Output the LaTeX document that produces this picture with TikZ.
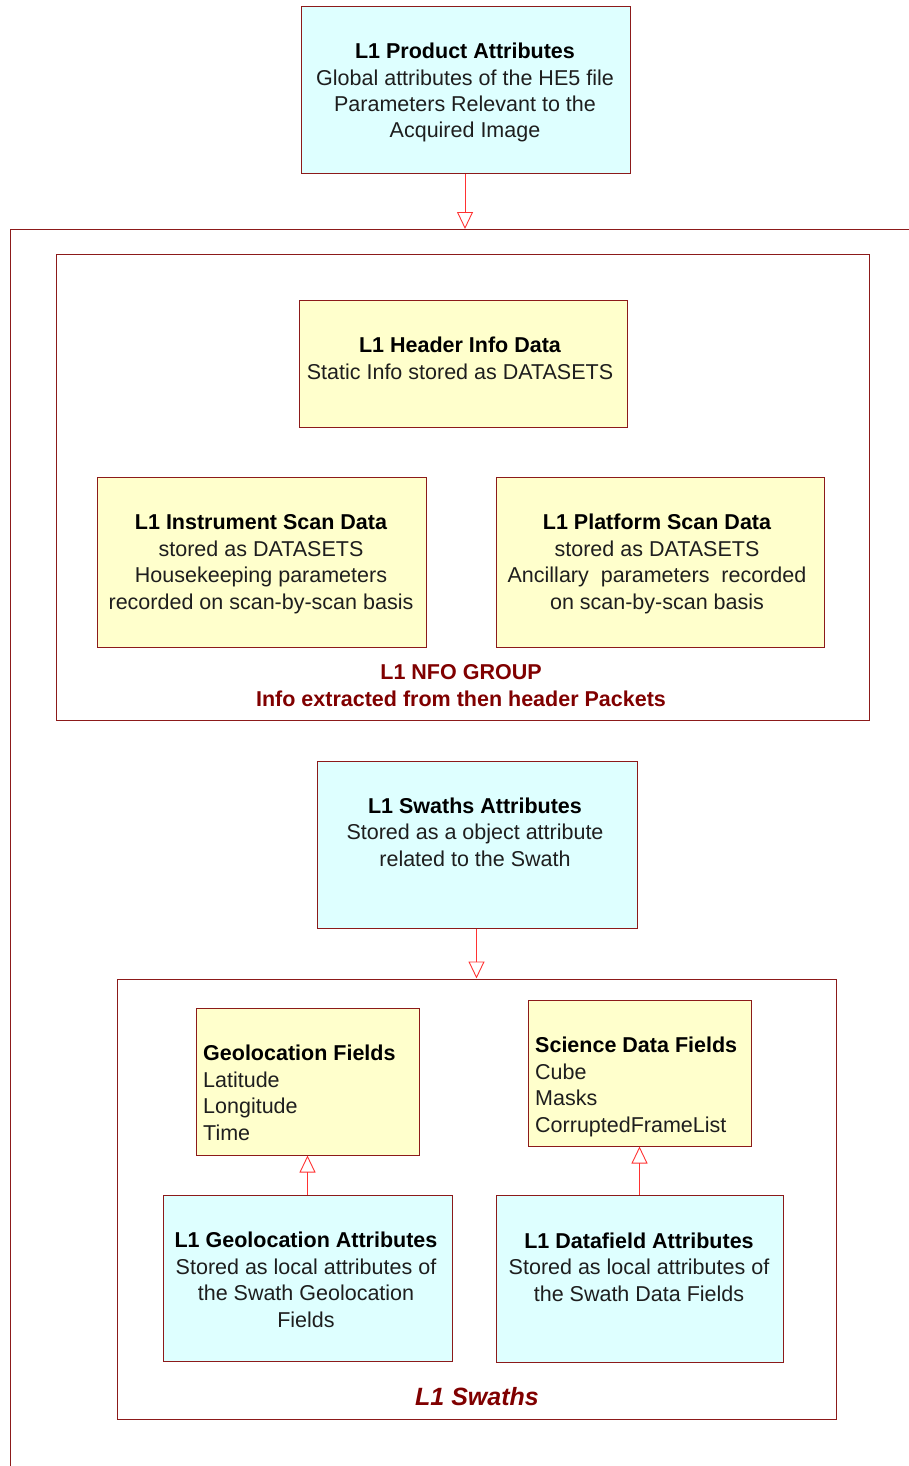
\documentclass[tikz,border=0pt]{standalone}
\usepackage{fontspec}
\setmainfont{Liberation Sans}
\usetikzlibrary{arrows.meta}
\definecolor{boxred}{RGB}{140,26,26}
\definecolor{grplabel}{RGB}{128,0,0}
\definecolor{arrred}{RGB}{255,50,50}
\definecolor{cyanfill}{RGB}{222,255,255}
\definecolor{yelfill}{RGB}{255,255,204}
\definecolor{bodytxt}{RGB}{30,30,30}
\tikzset{
  x=1pt, y=-1pt,
  boxbase/.style={draw=boxred, line width=1pt, inner sep=0pt},
  cyanbox/.style={boxbase, fill=cyanfill},
  yelbox/.style={boxbase, fill=yelfill},
  grpbox/.style={draw=boxred, line width=1pt, inner sep=0pt},
  txt/.style={inner sep=0pt, align=center, anchor=base, text=bodytxt, font=\fontsize{21.5}{26.4}\selectfont},
  ltxt/.style={txt, align=left, anchor=base west},
  grptxt/.style={inner sep=0pt, align=center, anchor=base, text=grplabel, font=\fontsize{21.5}{26.4}\selectfont\bfseries},
  arr/.style={draw=arrred, line width=0.9pt, -{Triangle[open, width=16pt, length=17pt, line width=0.9pt]}},
}
\begin{document}
\begin{tikzpicture}
\useasboundingbox (0,0) rectangle (908,1466);
% outer frame (clipped)
\coordinate (otr) at (910,229);
\coordinate (otl) at (10,229);
\coordinate (obl) at (10,1468);
\draw[boxred, line width=1pt] (otr) -- (otl) -- (obl);

% L1 Product Attributes
\node[cyanbox, minimum width=329pt, minimum height=167pt] (pa) at (465.5,90.5) {};
\node[txt] (pat) at (465,138) {\textbf{\textcolor{black}{L1 Product Attributes}}\\Global attributes of the HE5 file\\Parameters Relevant to the\\Acquired Image};
\coordinate (paend) at (465,229);
\draw[arr] (pa.south -| paend) -- (paend);

% NFO group
\node[grpbox, minimum width=813pt, minimum height=466pt] (nfo) at (462.5,487) {};

\node[yelbox, minimum width=328pt, minimum height=127pt] (hid) at (463,363.5) {};
\node[txt] (hidt) at (460,379) {\textbf{\textcolor{black}{L1 Header Info Data}}\\Static Info stored as DATASETS};

\node[yelbox, minimum width=329pt, minimum height=170pt] (isd) at (261.5,562) {};
\node[txt] (isdt) at (261,609) {\textbf{\textcolor{black}{L1 Instrument Scan Data}}\\stored as DATASETS\\Housekeeping parameters\\recorded on scan-by-scan basis};

\node[yelbox, minimum width=328pt, minimum height=170pt] (psd) at (660,562) {};
\node[txt] (psdt) at (657,609) {\textbf{\textcolor{black}{L1 Platform Scan Data}}\\stored as DATASETS\\Ancillary\ \ parameters\ \ recorded\\on scan-by-scan basis};

\node[grptxt] (nfot) at (461,706) {L1 NFO GROUP\\Info extracted from then header Packets};

% Swaths attributes
\node[cyanbox, minimum width=320pt, minimum height=167pt] (sa) at (477,844.5) {};
\node[txt] (sat) at (475,866) {\textbf{\textcolor{black}{L1 Swaths Attributes}}\\Stored as a object attribute\\related to the Swath};

% Swaths group
\node[grpbox, minimum width=719pt, minimum height=440pt] (sg) at (476.5,1199) {};
\draw[arr] (sa.south -| sg.north) -- (sg.north);

\node[yelbox, minimum width=223pt, minimum height=147pt] (gf) at (307.5,1081.5) {};
\node[ltxt] (gft) at (203,1140) {\textbf{\textcolor{black}{Geolocation Fields}}\\Latitude\\Longitude\\Time};

\node[yelbox, minimum width=223pt, minimum height=146pt] (sf) at (639.5,1073) {};
\node[ltxt] (sft) at (535,1132) {\textbf{\textcolor{black}{Science Data Fields}}\\Cube\\Masks\\CorruptedFrameList};

\node[cyanbox, minimum width=289pt, minimum height=166pt] (ga) at (307.5,1278) {};
\node[txt] (gat) at (306,1327) {\textbf{\textcolor{black}{L1 Geolocation Attributes}}\\Stored as local attributes of\\the Swath Geolocation\\Fields};

\node[cyanbox, minimum width=287pt, minimum height=167pt] (da) at (639.5,1278.5) {};
\node[txt] (dat) at (639,1301) {\textbf{\textcolor{black}{L1 Datafield Attributes}}\\Stored as local attributes of\\the Swath Data Fields};

\node[inner sep=0pt, anchor=base, text=grplabel, font=\fontsize{25}{30}\selectfont\bfseries\itshape] (sgt) at (477,1405) {L1 Swaths};

\draw[arr] (ga.north) -- (gf.south);
\draw[arr] (da.north) -- (sf.south);
\end{tikzpicture}
\end{document}
